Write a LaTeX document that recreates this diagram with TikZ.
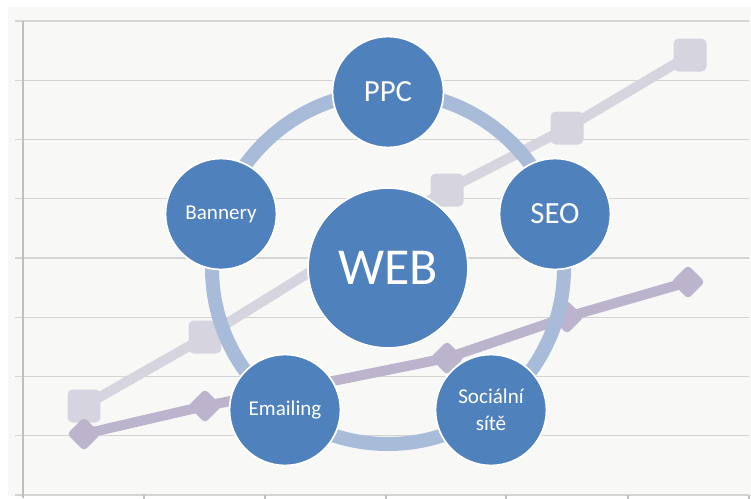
\documentclass[tikz,border=0pt]{standalone}
\usepackage{fontspec}
\setmainfont{Carlito}
\definecolor{webblue}{HTML}{4F81BD}
\definecolor{ringblue}{HTML}{A8BBD9}
\definecolor{sqgray}{HTML}{D6D4DE}
\definecolor{dmpurple}{HTML}{BCB3CC}
\definecolor{gridgray}{HTML}{D4D4D4}
\definecolor{axisgray}{HTML}{BFBFBF}
\definecolor{chartbg}{HTML}{F8F9F7}
\begin{document}
\begin{tikzpicture}[x=0.02cm,y=-0.02cm,
  grid/.style={draw=gridgray,line width=0.6pt},
  axis/.style={draw=axisgray,line width=0.6pt},
  sat/.style={circle,fill=webblue,draw=white,line width=1pt,text=white,minimum size=2.22cm,inner sep=0pt,align=center,font=\fontsize{12}{15.4}\selectfont},
  bigtext/.style={font=\fontsize{17.5}{20}\selectfont},
  hub/.style={sat,minimum size=3.2cm,font=\fontsize{29.5}{32}\selectfont},
  sqmark/.style={rectangle,fill=sqgray,rounded corners=1mm,minimum size=6.6mm,inner sep=0pt},
  dmmark/.style={rectangle,rotate=45,fill=dmpurple,rounded corners=0.8mm,minimum size=4.8mm,inner sep=0pt},
  sqline/.style={draw=sqgray,line width=2mm},
  dmline/.style={draw=dmpurple,line width=2mm},
  ring/.style={draw=ringblue,line width=2.8mm}]
\useasboundingbox[fill=white](0,0)rectangle(751,498);
\fill[chartbg](8,7)rectangle(751,496);
\foreach \y in {21,80.25,139.5,198.75,258,317.25,376.5,435.75,495} \draw[grid](15,\y)--(749,\y);
\draw[axis](23,21)--(23,498);
\foreach \x in {144,265,386,506,628,749} \draw[axis](\x,495)--(\x,503);
\foreach \i/\x/\y in {1/84/406,2/205/337,3/326/262,4/447/190,5/567/128,6/690/55} \node[sqmark](s\i)at(\x,\y){};
\draw[sqline](s1.center)--(s2.center)--(s3.center)--(s4.center)--(s5.center)--(s6.center);
\foreach \i/\x/\y in {1/84/434,2/205/406,3/318/384,4/447/358,5/567/317,6/688/282} \node[dmmark](d\i)at(\x,\y){};
\draw[dmline](d1.center)--(d2.center)--(d3.center)--(d4.center)--(d5.center)--(d6.center);
\coordinate(c)at(388,268);
\draw[ring](c)circle[radius=176];
\node[hub](web)at(c){WEB};
\node[sat,bigtext](ppc)at(388,92){PPC};
\node[sat,bigtext](seo)at(555,214){SEO};
\node[sat](ban)at(221,214){Bannery};
\node[sat](mail)at(285,410){Emailing};
\node[sat](soc)at(491,410){Sociální\\sítě};
\end{tikzpicture}
\end{document}
